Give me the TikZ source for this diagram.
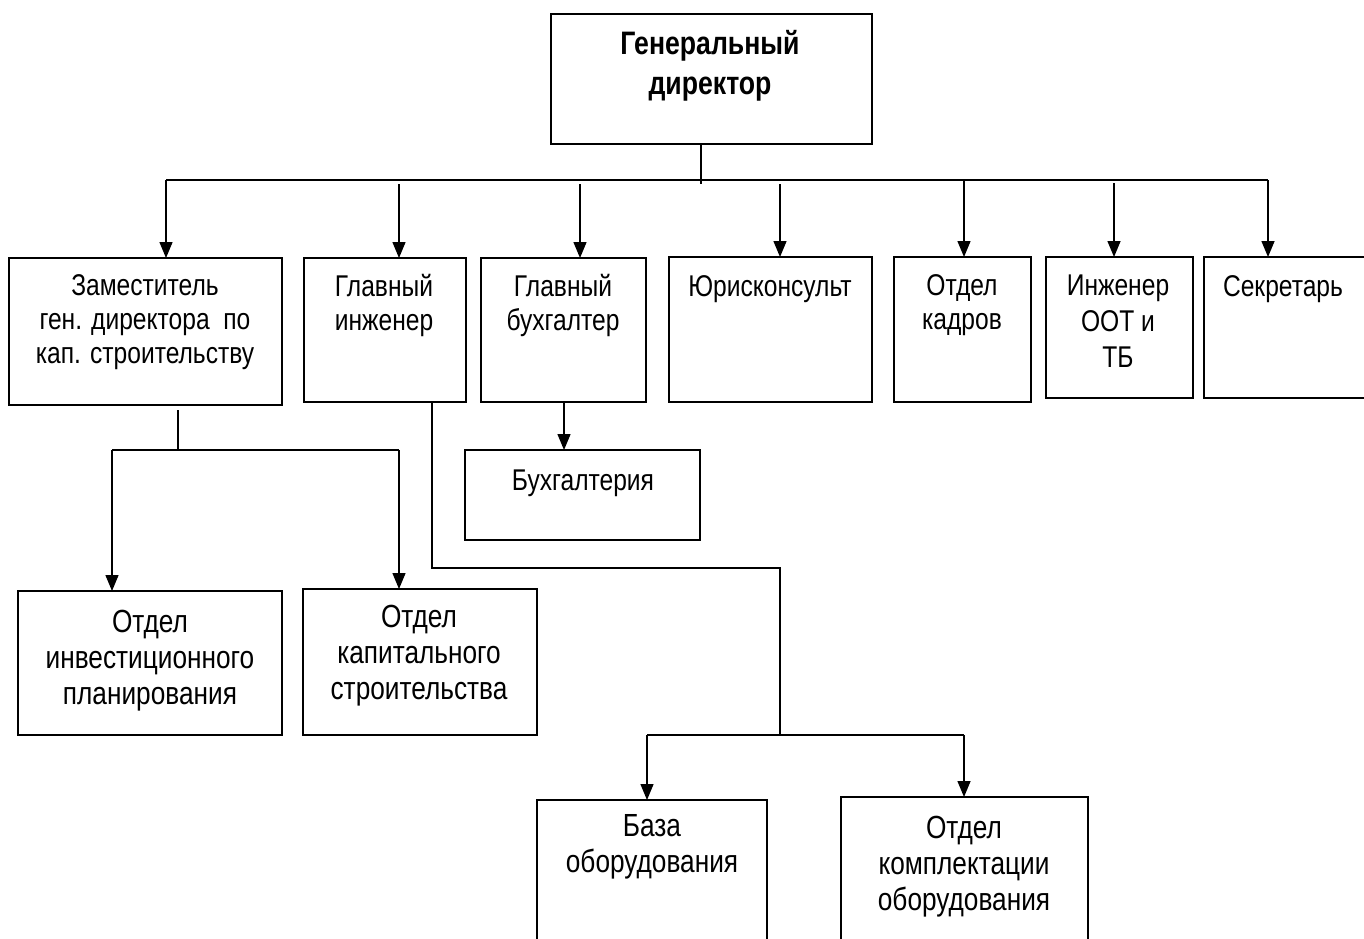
\documentclass[tikz,border=0pt]{standalone}
\usepackage{fontspec}
\setmainfont{Liberation Sans}[FakeStretch=0.82]
\usetikzlibrary{arrows.meta}
\begin{document}
\begin{tikzpicture}[x=1pt,y=-1pt,
  box/.style={draw,line width=1.8pt,inner sep=0pt,outer sep=0pt},
  txt/.style={font=\fontsize{30}{34}\selectfont,align=center,inner sep=0pt,anchor=north},
  txtb/.style={font=\fontsize{32}{36}\selectfont,align=center,inner sep=0pt,anchor=north},
  conn/.style={line width=1.4pt},
  arr/.style={conn,-{Triangle[length=16pt,width=13pt]}}]
\useasboundingbox (0,0) rectangle (1364,938);
\clip (0,0) rectangle (1364,938);
\fill[white] (0,0) rectangle (1364,938);

% boxes
\node[box,minimum width=321pt,minimum height=130pt] (gd) at (711.5,79) {};
\node[box,minimum width=273pt,minimum height=147pt] (zam) at (145.5,331.5) {};
\node[box,minimum width=162pt,minimum height=144pt] (gi) at (385,330) {};
\node[box,minimum width=165pt,minimum height=144pt] (gb) at (563.5,330) {};
\node[box,minimum width=203pt,minimum height=145pt] (yur) at (770.5,329.5) {};
\node[box,minimum width=137pt,minimum height=145pt] (kadr) at (962.5,329.5) {};
\node[box,minimum width=147pt,minimum height=141pt] (oot) at (1119.5,327.5) {};
\node[box,minimum width=186pt,minimum height=141pt] (sekr) at (1297,327.5) {};
\node[box,minimum width=235pt,minimum height=90pt] (buh) at (582.5,495) {};
\node[box,minimum width=264pt,minimum height=144pt] (inv) at (150,663) {};
\node[box,minimum width=234pt,minimum height=146pt] (kap) at (420,662) {};
\node[box,minimum width=230pt,minimum height=190pt] (baza) at (652,895) {};
\node[box,minimum width=247pt,minimum height=193pt] (kompl) at (964.5,893.5) {};

% texts
\node[txt,font=\fontsize{32.5}{40}\selectfont\bfseries] (tgd) at (710,30) {Генеральный\\директор};
\node[txt] (tzam) at (145,274.5) {Заместитель\\ген. директора~~по\\кап. строительству};
\node[txt] (tgi) at (384,274.5) {Главный\\инженер};
\node[txt] (tgb) at (563,274.5) {Главный\\бухгалтер};
\node[txt] (tyur) at (770,275.5) {Юрисконсульт};
\node[txt] (tkadr) at (962,274.5) {Отдел\\кадров};
\node[txt,font=\fontsize{30}{36}\selectfont] (toot) at (1118,274.5) {Инженер\\ООТ и\\ТБ};
\node[txt] (tsekr) at (1283,275.5) {Секретарь};
\node[txt] (tbuh) at (583,469.5) {Бухгалтерия};
\node[txtb] (tinv) at (150,609.5) {Отдел\\инвестиционного\\планирования};
\node[txtb] (tkap) at (419,604.5) {Отдел\\капитального\\строительства};
\node[txtb] (tbaza) at (652,814.5) {База\\оборудования};
\node[txtb] (tkompl) at (964,815.5) {Отдел\\комплектации\\оборудования};

% top level connectors
\coordinate (j0) at (701,184);
\draw[conn] (gd.south -| j0) -- (j0);
\coordinate (hl) at (166,180);
\coordinate (hr) at (1268,180);
\draw[conn] (hl) -- (hr);
\draw[arr] (hl) -- (hl |- zam.north);
\coordinate (a2) at (399,184);
\draw[arr] (a2) -- (a2 |- gi.north);
\coordinate (a3) at (580,184);
\draw[arr] (a3) -- (a3 |- gb.north);
\coordinate (a4) at (780,184);
\draw[arr] (a4) -- (a4 |- yur.north);
\coordinate (a5) at (964,180);
\draw[arr] (a5) -- (a5 |- kadr.north);
\coordinate (a6) at (1114,183);
\draw[arr] (a6) -- (a6 |- oot.north);
\draw[arr] (hr) -- (hr |- sekr.north);

% deputy
\coordinate (z0) at (178,410);
\coordinate (z1) at (178,450);
\draw[conn] (z0) -- (z1);
\coordinate (zl) at (112,450);
\coordinate (zr) at (399,450);
\draw[conn] (zl) -- (zr);
\draw[arr] (zl) -- (zl |- inv.north);
\draw[arr] (zr) -- (zr |- kap.north);

% chief accountant
\coordinate (b0) at (564,402);
\draw[arr] (b0 |- gb.south) -- (b0 |- buh.north);

% chief engineer
\coordinate (g0) at (432,402);
\coordinate (g1) at (432,568);
\coordinate (g2) at (780,568);
\coordinate (g3) at (780,735);
\draw[conn] (g0 |- gi.south) -- (g1) -- (g2) -- (g3);
\coordinate (bl) at (647,735);
\coordinate (br) at (964,735);
\draw[conn] (bl) -- (br);
\draw[arr] (bl) -- (bl |- baza.north);
\draw[arr] (br) -- (br |- kompl.north);
\end{tikzpicture}
\end{document}
